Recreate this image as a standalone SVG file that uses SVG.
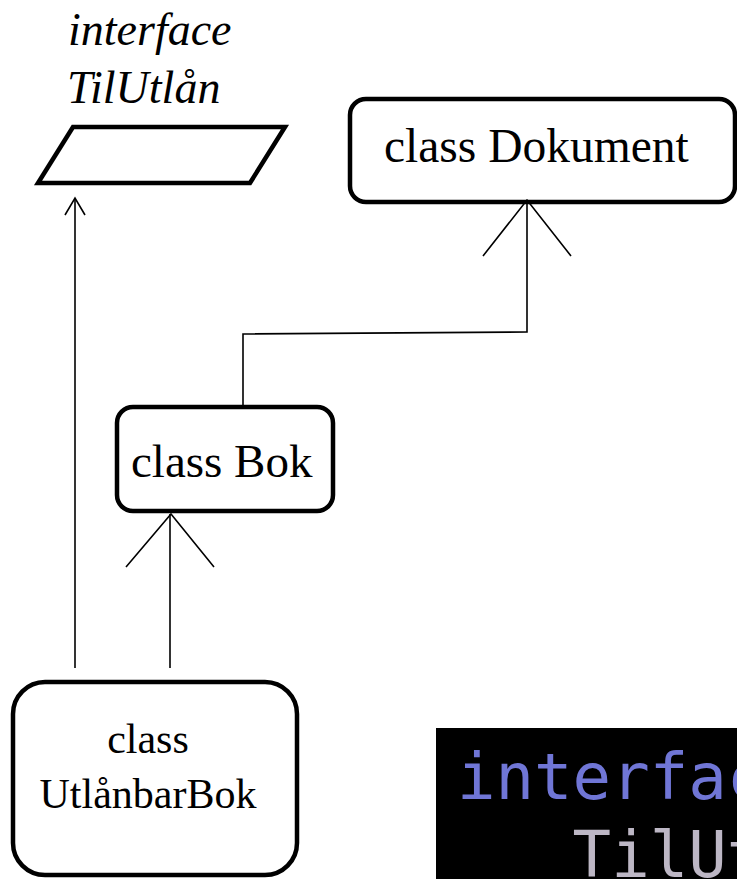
<svg xmlns="http://www.w3.org/2000/svg" width="737" height="879" viewBox="0 0 737 879">
  <style>
    .box { fill: #ffffff; stroke: #000000; stroke-width: 4.5; }
    .lbl { font-family: "Liberation Serif", "Times New Roman", serif; fill: #000000; }
    .edge { fill: none; stroke: #000000; stroke-width: 1.6; }
    .code { font-family: "DejaVu Sans Mono", "Liberation Mono", monospace; font-size: 64px; }
  </style>
  <defs>
    <clipPath id="codeClip">
      <rect x="436" y="728" width="301" height="151"/>
    </clipPath>
  </defs>

  <rect width="737" height="879" fill="#ffffff"/>

  <!-- interface TilUtlån -->
  <g id="node-tilutlan">
    <text class="lbl" x="68" y="45" font-size="46" font-style="italic">interface</text>
    <text class="lbl" x="67" y="103" font-size="46" font-style="italic">TilUtlån</text>
    <polygon class="box" points="73,127 285,127 250,183 38,183"/>
  </g>

  <!-- class Dokument -->
  <g id="node-dokument">
    <rect class="box" x="350" y="99" width="385" height="103" rx="16" ry="16"/>
    <text class="lbl" x="384" y="162" font-size="47.5">class Dokument</text>
  </g>

  <!-- class Bok -->
  <g id="node-bok">
    <rect class="box" x="117" y="407" width="216" height="104" rx="16" ry="16"/>
    <text class="lbl" x="131" y="477" font-size="47">class Bok</text>
  </g>

  <!-- class UtlånbarBok -->
  <g id="node-utlanbarbok">
    <rect class="box" x="13" y="682" width="284" height="193" rx="32" ry="32"/>
    <text class="lbl" x="148" y="753" font-size="42" text-anchor="middle">class</text>
    <text class="lbl" x="148" y="808" font-size="42" text-anchor="middle">UtlånbarBok</text>
  </g>

  <!-- code snippet panel, cropped by the page edge -->
  <g id="code-panel">
    <rect x="436" y="728" width="301" height="151" fill="#000000"/>
    <g clip-path="url(#codeClip)">
      <text class="code" x="457" y="799" fill="#7076d6">interface</text>
      <text class="code" x="572.6" y="877" fill="#bdb7c5">TilUtlån</text>
    </g>
  </g>

  <!-- connectors -->
  <g id="connectors">
    <!-- Bok extends Dokument -->
    <polyline class="edge" points="243,405 243,334 527,332 527,200"/>
    <polyline class="edge" points="483,256 527,200 571,256"/>
    <!-- UtlånbarBok extends Bok -->
    <line class="edge" x1="170" y1="668" x2="170" y2="514"/>
    <polyline class="edge" points="126,567 171,514 214,567"/>
    <!-- UtlånbarBok implements TilUtlån -->
    <line class="edge" x1="75" y1="668" x2="75" y2="198"/>
    <polyline class="edge" points="65,215 75,198 85,215"/>
  </g>
</svg>
